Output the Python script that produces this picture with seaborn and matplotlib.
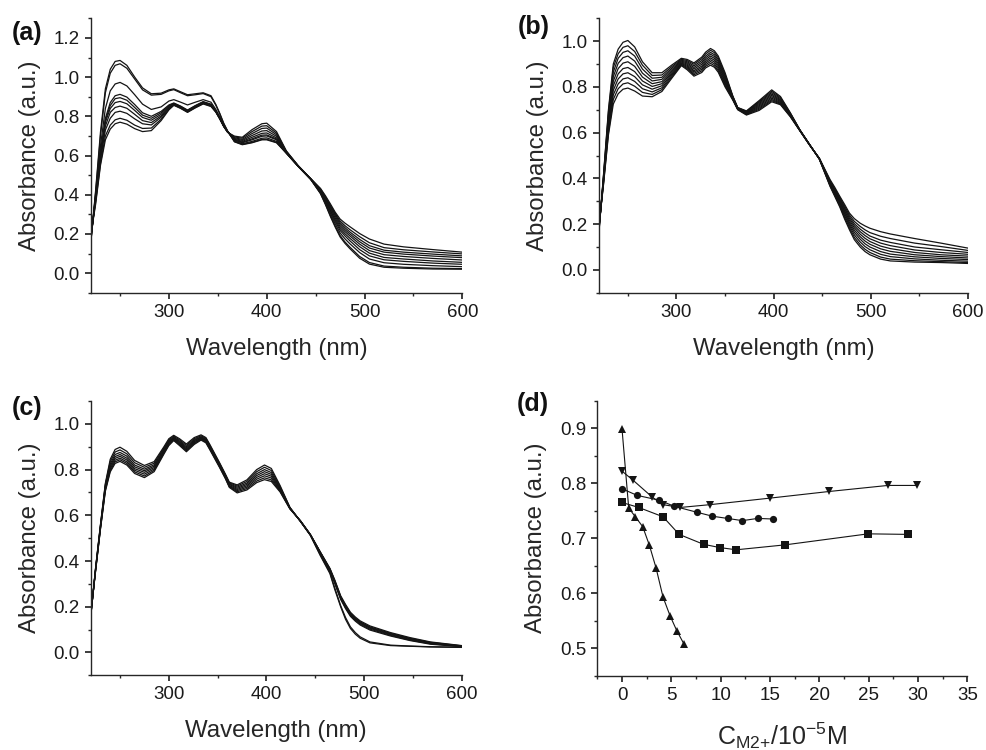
import numpy as np
import pandas as pd
import matplotlib
matplotlib.use("Agg")
import matplotlib.pyplot as plt
from matplotlib.ticker import MultipleLocator, FormatStrFormatter
import seaborn as sns

# ---------------------------------------------------------------- data
# (a) UV-vis spectra, one row per wavelength, one column per titration step
WL_A = [220, 225, 230, 235, 240, 245, 250, 257, 265, 273, 282, 292, 300, 305,
        312, 319, 327, 335, 343, 348, 352, 356, 360, 367, 375, 385, 395, 400,
        410, 420, 432, 445, 455, 460, 465, 470, 475, 480, 485, 495, 505, 520,
        540, 570, 600]
ABS_A = [
    [0.15, 0.15, 0.16, 0.16, 0.17, 0.17, 0.18, 0.18, 0.19, 0.19],
    [0.42, 0.41, 0.40, 0.39, 0.39, 0.38, 0.38, 0.37, 0.36, 0.35],
    [0.72, 0.70, 0.65, 0.62, 0.61, 0.60, 0.59, 0.58, 0.56, 0.55],
    [0.94, 0.92, 0.84, 0.79, 0.78, 0.77, 0.75, 0.73, 0.70, 0.68],
    [1.04, 1.02, 0.93, 0.87, 0.855, 0.84, 0.82, 0.79, 0.755, 0.735],
    [1.08, 1.06, 0.965, 0.905, 0.89, 0.87, 0.845, 0.82, 0.782, 0.762],
    [1.085, 1.068, 0.973, 0.912, 0.895, 0.876, 0.852, 0.826, 0.79, 0.77],
    [1.06, 1.045, 0.955, 0.898, 0.882, 0.864, 0.841, 0.815, 0.78, 0.76],
    [1.0, 0.99, 0.91, 0.86, 0.845, 0.83, 0.81, 0.787, 0.755, 0.737],
    [0.945, 0.935, 0.862, 0.818, 0.806, 0.794, 0.778, 0.762, 0.738, 0.722],
    [0.915, 0.908, 0.835, 0.80, 0.79, 0.78, 0.768, 0.756, 0.74, 0.727],
    [0.918, 0.912, 0.848, 0.825, 0.818, 0.81, 0.802, 0.795, 0.785, 0.778],
    [0.935, 0.93, 0.878, 0.858, 0.854, 0.85, 0.846, 0.842, 0.837, 0.833],
    [0.94, 0.936, 0.885, 0.868, 0.866, 0.864, 0.862, 0.86, 0.858, 0.856],
    [0.925, 0.92, 0.872, 0.852, 0.85, 0.848, 0.846, 0.844, 0.842, 0.84],
    [0.91, 0.905, 0.858, 0.832, 0.83, 0.828, 0.826, 0.824, 0.822, 0.82],
    [0.915, 0.91, 0.872, 0.855, 0.853, 0.851, 0.849, 0.847, 0.845, 0.843],
    [0.92, 0.916, 0.885, 0.875, 0.873, 0.871, 0.869, 0.867, 0.865, 0.863],
    [0.905, 0.9, 0.872, 0.862, 0.86, 0.858, 0.856, 0.854, 0.852, 0.85],
    [0.86, 0.856, 0.835, 0.828, 0.826, 0.825, 0.824, 0.823, 0.822, 0.821],
    [0.815, 0.812, 0.797, 0.792, 0.791, 0.79, 0.789, 0.788, 0.787, 0.786],
    [0.765, 0.763, 0.755, 0.752, 0.751, 0.75, 0.75, 0.749, 0.749, 0.748],
    [0.725, 0.724, 0.723, 0.722, 0.722, 0.721, 0.72, 0.72, 0.719, 0.718],
    [0.67, 0.671, 0.674, 0.678, 0.68, 0.683, 0.687, 0.691, 0.695, 0.699],
    [0.655, 0.657, 0.66, 0.665, 0.668, 0.672, 0.677, 0.682, 0.688, 0.693],
    [0.665, 0.667, 0.672, 0.68, 0.685, 0.693, 0.702, 0.712, 0.722, 0.732],
    [0.68, 0.682, 0.688, 0.698, 0.704, 0.713, 0.725, 0.738, 0.75, 0.762],
    [0.68, 0.683, 0.69, 0.70, 0.705, 0.715, 0.727, 0.74, 0.752, 0.765],
    [0.665, 0.667, 0.672, 0.68, 0.684, 0.69, 0.698, 0.706, 0.714, 0.722],
    [0.612, 0.612, 0.613, 0.614, 0.615, 0.616, 0.618, 0.62, 0.622, 0.624],
    [0.545, 0.545, 0.546, 0.546, 0.547, 0.547, 0.548, 0.548, 0.549, 0.549],
    [0.478, 0.478, 0.479, 0.479, 0.48, 0.48, 0.481, 0.481, 0.482, 0.482],
    [0.405, 0.407, 0.41, 0.414, 0.417, 0.42, 0.423, 0.426, 0.429, 0.432],
    [0.35, 0.353, 0.36, 0.366, 0.371, 0.376, 0.381, 0.385, 0.39, 0.395],
    [0.29, 0.295, 0.305, 0.314, 0.321, 0.328, 0.335, 0.341, 0.347, 0.354],
    [0.235, 0.241, 0.253, 0.264, 0.273, 0.282, 0.291, 0.299, 0.305, 0.311],
    [0.185, 0.192, 0.205, 0.218, 0.228, 0.238, 0.248, 0.257, 0.266, 0.276],
    [0.152, 0.159, 0.175, 0.19, 0.201, 0.212, 0.222, 0.232, 0.242, 0.255],
    [0.125, 0.133, 0.15, 0.165, 0.178, 0.19, 0.20, 0.21, 0.222, 0.237],
    [0.076, 0.085, 0.105, 0.12, 0.135, 0.148, 0.16, 0.172, 0.186, 0.202],
    [0.046, 0.054, 0.072, 0.088, 0.102, 0.115, 0.128, 0.14, 0.155, 0.174],
    [0.03, 0.036, 0.053, 0.068, 0.08, 0.094, 0.107, 0.117, 0.13, 0.148],
    [0.025, 0.03, 0.045, 0.06, 0.072, 0.085, 0.097, 0.107, 0.119, 0.134],
    [0.021, 0.025, 0.038, 0.051, 0.062, 0.075, 0.087, 0.097, 0.108, 0.12],
    [0.02, 0.023, 0.033, 0.045, 0.055, 0.067, 0.079, 0.088, 0.098, 0.107],
]

# (b)
WL_B = [220, 225, 230, 235, 240, 245, 250, 257, 265, 275, 285, 295, 305, 311,
        318, 326, 330, 335, 339, 343, 350, 358, 363, 372, 385, 398, 407, 417,
        427, 437, 447, 458, 463, 468, 473, 478, 483, 489, 494, 499, 510, 520,
        545, 572, 600]
ABS_B = [
    [0.15, 0.155, 0.16, 0.165, 0.17, 0.172, 0.175, 0.178, 0.18, 0.185],
    [0.42, 0.415, 0.41, 0.405, 0.40, 0.395, 0.39, 0.385, 0.38, 0.375],
    [0.70, 0.69, 0.675, 0.66, 0.645, 0.635, 0.625, 0.615, 0.60, 0.59],
    [0.90, 0.885, 0.865, 0.845, 0.825, 0.805, 0.785, 0.765, 0.745, 0.725],
    [0.965, 0.945, 0.925, 0.903, 0.88, 0.857, 0.835, 0.813, 0.792, 0.77],
    [0.995, 0.973, 0.951, 0.928, 0.904, 0.88, 0.857, 0.835, 0.813, 0.79],
    [1.003, 0.98, 0.958, 0.935, 0.91, 0.885, 0.862, 0.84, 0.818, 0.795],
    [0.975, 0.955, 0.935, 0.913, 0.89, 0.867, 0.845, 0.824, 0.803, 0.782],
    [0.91, 0.895, 0.878, 0.86, 0.843, 0.826, 0.809, 0.792, 0.776, 0.76],
    [0.862, 0.85, 0.838, 0.826, 0.814, 0.802, 0.79, 0.778, 0.767, 0.757],
    [0.862, 0.852, 0.842, 0.833, 0.823, 0.814, 0.805, 0.796, 0.788, 0.78],
    [0.895, 0.888, 0.881, 0.874, 0.867, 0.861, 0.855, 0.849, 0.843, 0.837],
    [0.925, 0.921, 0.917, 0.913, 0.909, 0.905, 0.902, 0.899, 0.896, 0.893],
    [0.92, 0.915, 0.91, 0.905, 0.9, 0.895, 0.89, 0.885, 0.88, 0.875],
    [0.905, 0.899, 0.892, 0.885, 0.878, 0.871, 0.865, 0.859, 0.853, 0.847],
    [0.93, 0.923, 0.915, 0.907, 0.899, 0.891, 0.884, 0.877, 0.87, 0.863],
    [0.952, 0.944, 0.935, 0.927, 0.919, 0.911, 0.904, 0.897, 0.89, 0.883],
    [0.968, 0.96, 0.951, 0.943, 0.935, 0.927, 0.919, 0.911, 0.903, 0.895],
    [0.958, 0.95, 0.941, 0.933, 0.925, 0.917, 0.909, 0.901, 0.893, 0.886],
    [0.935, 0.927, 0.919, 0.911, 0.903, 0.895, 0.887, 0.879, 0.871, 0.864],
    [0.862, 0.855, 0.848, 0.841, 0.834, 0.827, 0.82, 0.813, 0.806, 0.80],
    [0.76, 0.758, 0.756, 0.754, 0.752, 0.75, 0.748, 0.746, 0.744, 0.742],
    [0.71, 0.709, 0.708, 0.707, 0.706, 0.705, 0.704, 0.703, 0.702, 0.70],
    [0.695, 0.693, 0.691, 0.689, 0.687, 0.685, 0.683, 0.681, 0.679, 0.677],
    [0.74, 0.736, 0.732, 0.727, 0.722, 0.717, 0.712, 0.707, 0.702, 0.697],
    [0.787, 0.781, 0.775, 0.769, 0.763, 0.757, 0.751, 0.745, 0.74, 0.735],
    [0.758, 0.753, 0.748, 0.743, 0.739, 0.735, 0.731, 0.728, 0.725, 0.722],
    [0.688, 0.686, 0.684, 0.682, 0.68, 0.678, 0.676, 0.674, 0.672, 0.67],
    [0.612, 0.612, 0.611, 0.611, 0.61, 0.61, 0.609, 0.609, 0.608, 0.608],
    [0.548, 0.548, 0.548, 0.547, 0.547, 0.547, 0.546, 0.546, 0.546, 0.545],
    [0.484, 0.484, 0.485, 0.485, 0.486, 0.486, 0.487, 0.487, 0.488, 0.488],
    [0.365, 0.368, 0.371, 0.374, 0.377, 0.38, 0.383, 0.386, 0.39, 0.395],
    [0.32, 0.324, 0.329, 0.334, 0.338, 0.342, 0.346, 0.35, 0.354, 0.36],
    [0.275, 0.28, 0.286, 0.292, 0.297, 0.302, 0.307, 0.312, 0.317, 0.322],
    [0.222, 0.229, 0.237, 0.245, 0.252, 0.259, 0.266, 0.272, 0.279, 0.286],
    [0.175, 0.183, 0.192, 0.2, 0.208, 0.216, 0.224, 0.232, 0.24, 0.248],
    [0.132, 0.142, 0.153, 0.164, 0.174, 0.184, 0.193, 0.202, 0.212, 0.224],
    [0.10, 0.11, 0.122, 0.134, 0.145, 0.156, 0.167, 0.178, 0.19, 0.204],
    [0.08, 0.09, 0.102, 0.114, 0.126, 0.138, 0.15, 0.162, 0.175, 0.192],
    [0.066, 0.076, 0.088, 0.1, 0.112, 0.124, 0.136, 0.148, 0.163, 0.182],
    [0.047, 0.056, 0.068, 0.08, 0.092, 0.104, 0.117, 0.13, 0.147, 0.167],
    [0.039, 0.047, 0.058, 0.069, 0.081, 0.093, 0.106, 0.12, 0.137, 0.157],
    [0.034, 0.04, 0.048, 0.057, 0.066, 0.076, 0.087, 0.1, 0.117, 0.137],
    [0.032, 0.036, 0.042, 0.05, 0.058, 0.066, 0.076, 0.088, 0.102, 0.117],
    [0.028, 0.032, 0.038, 0.045, 0.052, 0.06, 0.068, 0.076, 0.085, 0.095],
]

# (c)
WL_C = [220, 225, 230, 235, 240, 245, 250, 257, 265, 275, 285, 295, 300, 305,
        311, 318, 326, 333, 338, 342, 352, 358, 362, 370, 380, 390, 398, 405,
        414, 424, 435, 445, 455, 465, 470, 476, 481, 486, 491, 496, 506, 527,
        547, 568, 600]
ABS_C = [
    [0.155, 0.155, 0.16, 0.16, 0.16, 0.165, 0.165, 0.165],
    [0.37, 0.368, 0.366, 0.364, 0.362, 0.36, 0.358, 0.356],
    [0.56, 0.557, 0.554, 0.551, 0.548, 0.545, 0.542, 0.54],
    [0.74, 0.735, 0.73, 0.725, 0.72, 0.715, 0.71, 0.705],
    [0.845, 0.835, 0.825, 0.817, 0.81, 0.803, 0.796, 0.79],
    [0.888, 0.877, 0.866, 0.857, 0.849, 0.841, 0.834, 0.827],
    [0.898, 0.886, 0.875, 0.866, 0.858, 0.85, 0.843, 0.836],
    [0.88, 0.869, 0.859, 0.85, 0.842, 0.834, 0.827, 0.82],
    [0.84, 0.83, 0.82, 0.812, 0.804, 0.797, 0.79, 0.783],
    [0.818, 0.81, 0.802, 0.795, 0.788, 0.78, 0.772, 0.765],
    [0.835, 0.828, 0.821, 0.815, 0.809, 0.803, 0.797, 0.791],
    [0.9, 0.895, 0.89, 0.885, 0.88, 0.876, 0.872, 0.868],
    [0.935, 0.93, 0.925, 0.921, 0.917, 0.913, 0.909, 0.905],
    [0.95, 0.946, 0.942, 0.939, 0.936, 0.933, 0.93, 0.927],
    [0.935, 0.93, 0.925, 0.921, 0.917, 0.913, 0.909, 0.905],
    [0.912, 0.906, 0.9, 0.895, 0.89, 0.886, 0.882, 0.878],
    [0.94, 0.935, 0.93, 0.926, 0.922, 0.918, 0.914, 0.91],
    [0.952, 0.948, 0.944, 0.941, 0.938, 0.935, 0.932, 0.929],
    [0.94, 0.936, 0.932, 0.929, 0.926, 0.923, 0.92, 0.917],
    [0.91, 0.906, 0.902, 0.899, 0.896, 0.893, 0.89, 0.887],
    [0.83, 0.827, 0.824, 0.821, 0.818, 0.815, 0.812, 0.809],
    [0.78, 0.777, 0.774, 0.771, 0.768, 0.765, 0.762, 0.76],
    [0.745, 0.742, 0.738, 0.735, 0.731, 0.728, 0.725, 0.722],
    [0.733, 0.728, 0.723, 0.718, 0.713, 0.708, 0.703, 0.698],
    [0.755, 0.748, 0.741, 0.735, 0.729, 0.723, 0.717, 0.711],
    [0.8, 0.791, 0.782, 0.774, 0.766, 0.758, 0.75, 0.743],
    [0.82, 0.81, 0.8, 0.791, 0.782, 0.773, 0.764, 0.756],
    [0.805, 0.796, 0.787, 0.779, 0.771, 0.763, 0.755, 0.748],
    [0.73, 0.725, 0.72, 0.716, 0.712, 0.708, 0.705, 0.702],
    [0.635, 0.634, 0.633, 0.632, 0.631, 0.63, 0.629, 0.628],
    [0.572, 0.572, 0.573, 0.573, 0.574, 0.574, 0.575, 0.575],
    [0.512, 0.513, 0.514, 0.514, 0.515, 0.515, 0.516, 0.516],
    [0.425, 0.428, 0.436, 0.437, 0.438, 0.439, 0.44, 0.441],
    [0.345, 0.35, 0.358, 0.36, 0.362, 0.364, 0.366, 0.368],
    [0.275, 0.282, 0.302, 0.305, 0.308, 0.311, 0.314, 0.317],
    [0.2, 0.205, 0.232, 0.236, 0.239, 0.242, 0.245, 0.248],
    [0.145, 0.153, 0.192, 0.196, 0.2, 0.203, 0.206, 0.21],
    [0.105, 0.112, 0.158, 0.162, 0.166, 0.169, 0.172, 0.176],
    [0.08, 0.087, 0.137, 0.141, 0.145, 0.148, 0.151, 0.155],
    [0.062, 0.068, 0.12, 0.124, 0.128, 0.131, 0.134, 0.138],
    [0.042, 0.046, 0.098, 0.102, 0.106, 0.109, 0.112, 0.116],
    [0.03, 0.032, 0.072, 0.075, 0.078, 0.081, 0.084, 0.087],
    [0.027, 0.028, 0.052, 0.054, 0.057, 0.06, 0.062, 0.065],
    [0.024, 0.025, 0.036, 0.038, 0.04, 0.042, 0.044, 0.046],
    [0.022, 0.023, 0.025, 0.026, 0.027, 0.028, 0.029, 0.03],
]

# (d) absorbance vs. metal-ion concentration (10^-5 M)
CONC_UP = [0, 0.68, 1.35, 2.1, 2.78, 3.45, 4.16, 4.87, 5.55, 6.3]
ABS_UP = [0.899, 0.755, 0.739, 0.721, 0.687, 0.646, 0.593, 0.559, 0.532, 0.507]
CONC_DOWN = [0, 1.15, 3.05, 4.16, 5.92, 8.9, 15.03, 20.99, 26.95, 29.93]
ABS_DOWN = [0.822, 0.805, 0.775, 0.761, 0.756, 0.761, 0.773, 0.785, 0.796, 0.796]
CONC_CIRC = [0, 1.52, 3.79, 5.31, 7.65, 9.17, 10.7, 12.2, 13.74, 15.27]
ABS_CIRC = [0.790, 0.778, 0.769, 0.758, 0.747, 0.740, 0.736, 0.732, 0.736, 0.735]
CONC_SQ = [0, 1.69, 4.16, 5.79, 8.26, 9.92, 11.58, 16.55, 24.95, 28.94]
ABS_SQ = [0.765, 0.756, 0.739, 0.707, 0.689, 0.683, 0.679, 0.688, 0.708, 0.707]

PANEL_TAGS = ["(a)", "(b)", "(c)", "(d)"]
Y_LABEL = "Absorbance (a.u.)"
X_LABEL_SPEC = "Wavelength (nm)"
X_LABEL_CONC = r"$\mathregular{C_{M2{+}}/10^{-5}M}$"

# ---------------------------------------------------------------- style
sns.set_theme(style="ticks")
plt.rcParams["font.family"] = ["Liberation Sans", "DejaVu Sans"]
plt.rcParams["mathtext.fontset"] = "custom"
plt.rcParams["mathtext.rm"] = "Liberation Sans"
AX_COLOR = "#262626"
plt.rcParams.update({
    "axes.edgecolor": AX_COLOR,
    "axes.linewidth": 1.0,
    "xtick.color": AX_COLOR,
    "ytick.color": AX_COLOR,
    "xtick.labelcolor": "#1a1a1a",
    "ytick.labelcolor": "#1a1a1a",
    "xtick.direction": "out",
    "ytick.direction": "out",
    "xtick.major.size": 4.5,
    "ytick.major.size": 4.5,
    "xtick.minor.size": 2.5,
    "ytick.minor.size": 2.5,
    "xtick.labelsize": 13.5,
    "ytick.labelsize": 13.5,
})
LABEL_SIZE = 17.3

fig = plt.figure(figsize=(9.87, 7.5), dpi=100)
fig.patch.set_facecolor("white")

rects = {
    "a": [0.0919, 0.6097, 0.3765, 0.3659],
    "b": [0.6066, 0.6097, 0.3742, 0.3659],
    "c": [0.0919, 0.0996, 0.3759, 0.3657],
    "d": [0.6052, 0.0990, 0.3749, 0.3667],
}


def spectra_frame(wl, rows):
    arr = np.asarray(rows, dtype=float)
    n = arr.shape[1]
    return pd.DataFrame({
        "wl": np.repeat(wl, n),
        "abs": arr.ravel(),
        "curve": np.tile(np.arange(n), len(wl)),
    })


def style_axes(ax):
    sns.despine(ax=ax)
    ax.set_ylabel(Y_LABEL, fontsize=LABEL_SIZE, labelpad=9)
    ax.yaxis.set_major_formatter(FormatStrFormatter("%.1f"))


spectra = [("a", WL_A, ABS_A, 1.3), ("b", WL_B, ABS_B, 1.1), ("c", WL_C, ABS_C, 1.1)]
for key, wl, rows, ytop in spectra:
    ax = fig.add_axes(rects[key])
    df = spectra_frame(wl, rows)
    sns.lineplot(data=df, x="wl", y="abs", units="curve", estimator=None,
                 color="#141414", lw=0.9, sort=False, legend=False, ax=ax)
    ax.set_xlim(220, 600)
    ax.set_ylim(-0.1, ytop)
    ax.set_xticks([300, 400, 500, 600])
    ax.xaxis.set_minor_locator(MultipleLocator(50))
    ax.set_yticks(np.arange(0, ytop - 0.05, 0.2))
    ax.yaxis.set_minor_locator(MultipleLocator(0.1))
    style_axes(ax)
    ax.set_xlabel(X_LABEL_SPEC, fontsize=LABEL_SIZE, labelpad=12)

# (d)
ax = fig.add_axes(rects["d"])
df_d = pd.concat([
    pd.DataFrame({"c": CONC_UP, "A": ABS_UP, "set": "up"}),
    pd.DataFrame({"c": CONC_DOWN, "A": ABS_DOWN, "set": "down"}),
    pd.DataFrame({"c": CONC_CIRC, "A": ABS_CIRC, "set": "circ"}),
    pd.DataFrame({"c": CONC_SQ, "A": ABS_SQ, "set": "sq"}),
], ignore_index=True)
sns.lineplot(data=df_d, x="c", y="A", style="set",
             markers={"up": "^", "down": "v", "circ": "o", "sq": "s"},
             dashes={"up": "", "down": "", "circ": "", "sq": ""},
             color="#141414", lw=0.8, markersize=5.2, markeredgewidth=0,
             estimator=None, sort=False, legend=False, ax=ax)
ax.set_xlim(-2.5, 35)
ax.set_ylim(0.45, 0.95)
ax.set_xticks(np.arange(0, 36, 5))
ax.xaxis.set_minor_locator(MultipleLocator(2.5))
ax.set_yticks([0.5, 0.6, 0.7, 0.8, 0.9])
ax.yaxis.set_minor_locator(MultipleLocator(0.05))
style_axes(ax)
ax.set_xlabel(X_LABEL_CONC, fontsize=18, labelpad=12)

# panel tags
tag_pos = [(12, 21), (518, 15), (12, 396), (517, 392)]
for tag, (px, py) in zip(PANEL_TAGS, tag_pos):
    fig.text(px / 987, 1 - py / 750, tag, ha="left", va="top",
             fontsize=18, fontweight="bold", color="#111111")

fig.savefig("out.png", dpi=100, facecolor="white")
